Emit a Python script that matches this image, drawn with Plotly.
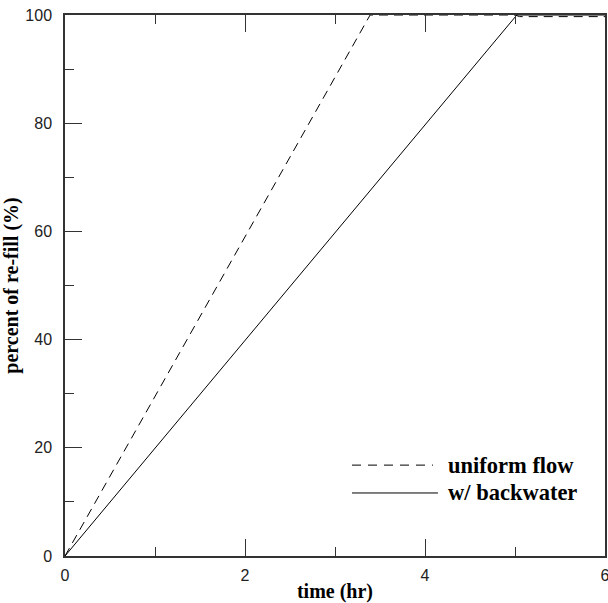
import plotly.graph_objects as go

# Re-fill progress over time for the two flow assumptions
time_uniform = [0, 3.39, 5.0, 5.05, 6.0]
pct_uniform = [0, 100, 100, 99.7, 99.7]

time_backwater = [0, 5.02, 6.0]
pct_backwater = [0, 100, 100]

x_ticks = [0, 2, 4, 6]
y_ticks = [0, 20, 40, 60, 80, 100]

legend_labels = ["uniform flow", "w/ backwater"]

fig = go.Figure()
fig.add_trace(go.Scatter(
    x=time_uniform, y=pct_uniform, mode="lines",
    line=dict(color="black", width=1, dash="9px,6px"),
    showlegend=False, cliponaxis=False,
))
fig.add_trace(go.Scatter(
    x=time_backwater, y=pct_backwater, mode="lines",
    line=dict(color="black", width=1),
    showlegend=False, cliponaxis=False,
))

# Hand-drawn legend: line samples plus bold serif labels
legend_rows = [(0.168, "9px,7px", 0.6815), (0.1165, "solid", 0.6907)]
for (ypos, dash, xend), label in zip(legend_rows, legend_labels):
    fig.add_shape(type="line", xref="paper", yref="paper",
                  x0=0.5315, x1=xend, y0=ypos, y1=ypos,
                  line=dict(color="black", width=1, dash=dash))
    fig.add_annotation(xref="paper", yref="paper", x=0.705, y=ypos,
                       text=label, showarrow=False, xanchor="left", yanchor="middle",
                       font=dict(family="Liberation Serif", size=22.5, color="black",
                                 weight="bold"))

axis_common = dict(
    showgrid=False, zeroline=False, automargin=False,
    showline=True, linecolor="#333333", linewidth=1.5,
    ticks="inside", ticklen=17, tickwidth=1, tickcolor="#333333",
    tickfont=dict(family="Liberation Sans", size=16, color="#222222"),
    ticklabeloverflow="allow",
)

fig.update_xaxes(
    **axis_common,
    range=[0, 6], tickvals=x_ticks, ticktext=[str(v) for v in x_ticks],
    mirror="ticks",
    ticklabelstandoff=4,
    minor=dict(ticks="inside", ticklen=9, dtick=1, tickcolor="#333333", tickwidth=1),
    title=dict(text="time (hr)", standoff=4,
               font=dict(family="Liberation Serif", size=20, color="black", weight="bold")),
)
fig.update_yaxes(
    **axis_common,
    range=[0, 100], tickvals=y_ticks, ticktext=[str(v) for v in y_ticks],
    mirror=True,
    minor=dict(ticks="inside", ticklen=9, dtick=10, tickcolor="#333333", tickwidth=1),
    ticklabelstandoff=8,
    title=dict(text="percent of re-fill (%)", standoff=2,
               font=dict(family="Liberation Serif", size=20, color="black", weight="bold")),
)

fig.update_layout(
    width=608, height=603,
    margin=dict(l=65, r=3, t=15, b=47),
    paper_bgcolor="white", plot_bgcolor="white",
)

fig.write_html("out.html")
